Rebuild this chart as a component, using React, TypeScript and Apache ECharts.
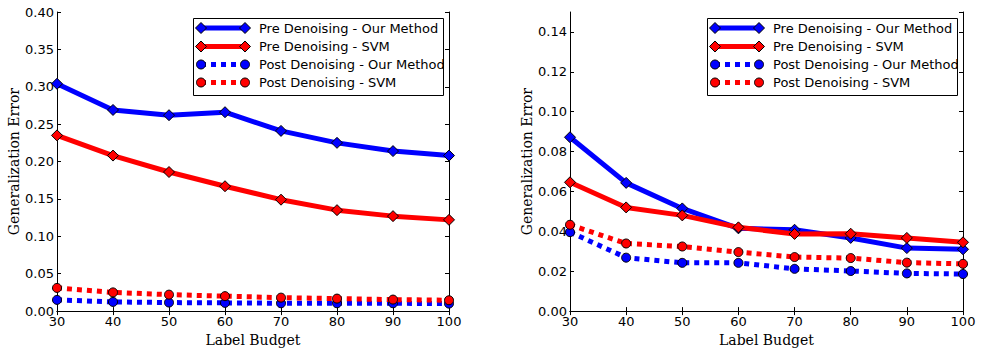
import React, { useEffect, useRef } from "react";
import * as echarts from "echarts";

const budgets = [30, 40, 50, 60, 70, 80, 90, 100];
const seriesNames = [
  "Pre Denoising - Our Method",
  "Pre Denoising - SVM",
  "Post Denoising - Our Method",
  "Post Denoising - SVM",
];
// Left panel
const leftPreOur = [0.304, 0.269, 0.262, 0.266, 0.241, 0.225, 0.214, 0.208];
const leftPreSvm = [0.235, 0.208, 0.186, 0.167, 0.149, 0.135, 0.127, 0.122];
const leftPostOur = [0.015, 0.0123, 0.0114, 0.011, 0.0105, 0.0105, 0.0105, 0.010];
const leftPostSvm = [0.031, 0.025, 0.022, 0.020, 0.018, 0.0167, 0.0154, 0.0145];
// Right panel
const rightPreOur = [0.0872, 0.0643, 0.0515, 0.0415, 0.0408, 0.0367, 0.0316, 0.031];
const rightPreSvm = [0.0646, 0.052, 0.048, 0.042, 0.0387, 0.0388, 0.0367, 0.0345];
const rightPostOur = [0.0396, 0.0268, 0.0242, 0.0242, 0.0212, 0.0201, 0.0189, 0.0186];
const rightPostSvm = [0.0433, 0.0339, 0.0324, 0.0296, 0.0271, 0.0266, 0.0243, 0.0237];

const xTitle = "Label Budget";
const yTitle = "Generalization Error";

const BLUE = "#0000ff";
const RED = "#ff0000";
const colors = [BLUE, RED, BLUE, RED];
const isPost = [false, false, true, true];

function pairs(ys: number[]) {
  return budgets.map((b, i) => [b, ys[i]]);
}

function legendGraphics(bx: number, by: number) {
  const els: any[] = [];
  els.push({
    type: "rect",
    shape: { x: bx + 0.5, y: by + 0.5, width: 250, height: 77 },
    style: { fill: "#fff", stroke: "#000", lineWidth: 1 },
    z: 100,
  });
  const rows = [10, 28.5, 46.5, 64.5];
  seriesNames.forEach((name, i) => {
    const y = by + rows[i];
    const x1 = bx + 8;
    const x2 = bx + 52;
    els.push({
      type: "line",
      shape: { x1, y1: y, x2, y2: y },
      style: {
        stroke: colors[i],
        lineWidth: 5,
        lineDash: isPost[i] ? [5, 5] : null,
        lineCap: "butt",
      },
      z: 101,
    });
    [x1, x2].forEach((cx) => {
      if (isPost[i]) {
        els.push({
          type: "circle",
          shape: { cx, cy: y, r: 4.5 },
          style: { fill: colors[i], stroke: "#000", lineWidth: 1 },
          z: 102,
        });
      } else {
        const h = 5.5;
        els.push({
          type: "polygon",
          shape: { points: [[cx, y - h], [cx + h, y], [cx, y + h], [cx - h, y]] },
          style: { fill: colors[i], stroke: "#000", lineWidth: 1 },
          z: 102,
        });
      }
    });
    els.push({
      type: "text",
      x: bx + 66,
      y,
      style: {
        text: name,
        fill: "#000",
        font: '13px "DejaVu Sans"',
        verticalAlign: "middle",
        align: "left",
      },
      z: 103,
    });
  });
  return els;
}

const axisColor = "#000";

function makeAxes(gridIndex: number, yMax: number, yInterval: number) {
  const xBase = {
    gridIndex,
    type: "value",
    min: 30,
    max: 100,
    interval: 10,
    splitLine: { show: false },
    axisLine: { show: true, lineStyle: { color: axisColor, width: 1 } },
    axisTick: { show: true, inside: true, length: 4, lineStyle: { color: axisColor } },
  };
  const yBase = {
    gridIndex,
    type: "value",
    min: 0,
    max: yMax,
    interval: yInterval,
    splitLine: { show: false },
    axisLine: { show: true, onZero: false, lineStyle: { color: axisColor, width: 1 } },
    axisTick: { show: true, inside: true, length: 4, lineStyle: { color: axisColor } },
  };
  const xs = [
    {
      ...xBase,
      position: "bottom",
      name: xTitle,
      nameLocation: "middle",
      nameGap: 16,
      nameTextStyle: { fontFamily: "DejaVu Serif", fontSize: 14, color: "#000" },
      axisLabel: {
        show: true,
        margin: 4,
        fontFamily: "DejaVu Sans",
        fontSize: 13,
        color: "#000",
      },
    },
    { ...xBase, position: "top", axisLabel: { show: false } },
  ];
  const ys = [
    {
      ...yBase,
      position: "left",
      name: yTitle,
      nameLocation: "middle",
      nameGap: 35,
      nameTextStyle: { fontFamily: "DejaVu Serif", fontSize: 14, color: "#000" },
      axisLabel: {
        show: true,
        margin: 3,
        fontFamily: "DejaVu Sans",
        fontSize: 13,
        color: "#000",
        showMaxLabel: yMax === 0.4,
        formatter: (v: number) => (Math.abs(v - yMax) < 1e-9 && yMax !== 0.4 ? "" : v.toFixed(2)),
      },
    },
    { ...yBase, position: "right", axisLabel: { show: false } },
  ];
  return { xs, ys };
}

function makeSeries(gridIdx: number, data: number[][]) {
  return data.map((ys, i) => ({
    name: seriesNames[i],
    type: "line",
    xAxisIndex: gridIdx * 2,
    yAxisIndex: gridIdx * 2,
    data: pairs(ys),
    symbol: isPost[i] ? "circle" : "diamond",
    symbolSize: isPost[i] ? 9 : 11,
    showSymbol: true,
    clip: false,
    lineStyle: {
      color: colors[i],
      width: 5,
      type: isPost[i] ? [5, 5] : "solid",
      cap: "butt",
    },
    itemStyle: { color: colors[i], borderColor: "#000", borderWidth: 1 },
    emphasis: { disabled: true },
    z: 2 + i,
  }));
}

export default function App() {
  const ref = useRef<HTMLDivElement>(null);
  useEffect(() => {
    if (!ref.current) return;
    const chart = echarts.init(ref.current, null, { renderer: "svg" });
    const a = makeAxes(0, 0.4, 0.05);
    const b = makeAxes(1, 0.15, 0.02);
    chart.setOption({
      animation: false,
      backgroundColor: "#fff",
      grid: [
        { left: 57, top: 12, width: 392, height: 304 },
        { left: 570, top: 12, width: 393, height: 304 },
      ],
      xAxis: [...a.xs, ...b.xs],
      yAxis: [...a.ys, ...b.ys],
      series: [
        ...makeSeries(0, [leftPreOur, leftPreSvm, leftPostOur, leftPostSvm]),
        ...makeSeries(1, [rightPreOur, rightPreSvm, rightPostOur, rightPostSvm]),
      ],
      graphic: [...legendGraphics(193, 18), ...legendGraphics(707, 18)],
    });
    return () => chart.dispose();
  }, []);
  return (
    <div
      ref={ref}
      style={{ position: "fixed", left: 0, top: 0, width: 981, height: 352, background: "#fff" }}
    />
  );
}
